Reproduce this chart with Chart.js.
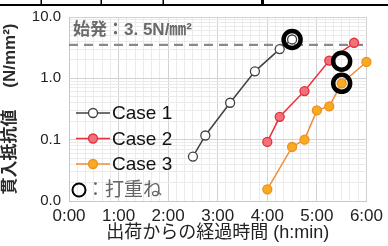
<!DOCTYPE html>
<html>
<head>
<meta charset="utf-8">
<script src="https://cdn.jsdelivr.net/npm/chart.js@4"></script>
<style>
  body { margin: 0; background: #fff; }
  canvas { display: block; }
</style>
</head>
<body>
<canvas id="chart" width="388" height="246"></canvas>
<script>
// elapsed time since shipping (h:mm) and penetration resistance (N/mm2)
const case1Times = ['2:30', '2:45', '3:15', '3:45', '4:15', '4:30'];
const case1Values = [0.053, 0.117, 0.40, 1.3, 3.0, 4.3];
const case2Times = ['4:00', '4:15', '4:45', '5:15', '5:45'];
const case2Values = [0.092, 0.236, 0.62, 1.95, 3.8];
const case3Times = ['4:00', '4:30', '4:45', '5:00', '5:15', '5:30', '6:00'];
const case3Values = [0.0155, 0.076, 0.1, 0.30, 0.35, 0.83, 1.85];
// 打重ね (layering) markers
const layerTimes = ['4:30', '5:30', '5:30'];
const layerValues = [4.3, 1.9, 0.83];
const initialSet = 3.5;
const yDecades = [0.01, 0.1, 1, 10];
const xHours = [0, 1, 2, 3, 4, 5, 6];

const FONT = '"Liberation Sans", "Noto Sans CJK JP", sans-serif';

function toHours(s) {
    const [h, m] = s.split(':').map(Number);
    return h + m / 60;
}
function pts(times, values) {
    return times.map((t, i) => ({ x: toHours(t), y: values[i] }));
}
function isDecade(v) {
    const l = Math.log10(v);
    return Math.abs(l - Math.round(l)) < 1e-9;
}

// cropped table edge above the figure + text inside the plot
const extras = {
    id: 'extras',
    beforeDraw(chart) {
        const ctx = chart.ctx;
        ctx.save();
        ctx.fillStyle = '#000';
        ctx.fillRect(0, 4, 388, 2);
        [41, 101, 163].forEach(x => ctx.fillRect(x - 0.5, 0, 1.5, 5));
        ctx.fillRect(261, 0, 3, 6);
        ctx.restore();
    },
    afterDatasetsDraw(chart) {
        const ctx = chart.ctx;
        const a = chart.chartArea;
        ctx.save();
        ctx.textBaseline = 'middle';
        // 始発 label
        ctx.fillStyle = '#6a6a6a';
        ctx.font = 'bold 17px ' + FONT;
        ctx.fillText('始発：3. 5N/㎜²', a.left + 4, a.top + 13);

        // legend
        const rows = [0, 1, 2];
        rows.forEach(i => {
            const ds = chart.data.datasets[i];
            const y = a.top + 96 + i * 25.5;
            const x0 = a.left + 7;
            ctx.strokeStyle = ds.borderColor;
            ctx.lineWidth = ds.borderWidth;
            ctx.beginPath();
            ctx.moveTo(x0, y);
            ctx.lineTo(x0 + 34, y);
            ctx.stroke();
            ctx.beginPath();
            ctx.arc(x0 + 17, y, ds.pointRadius, 0, Math.PI * 2);
            ctx.fillStyle = ds.pointBackgroundColor;
            ctx.fill();
            ctx.lineWidth = ds.pointBorderWidth;
            ctx.strokeStyle = ds.pointBorderColor;
            ctx.stroke();
            ctx.fillStyle = '#111';
            ctx.font = '19px ' + FONT;
            ctx.fillText(ds.label, x0 + 36, y + 1);
        });
        const y4 = a.top + 173;
        ctx.beginPath();
        ctx.arc(a.left + 10, y4, 6.5, 0, Math.PI * 2);
        ctx.strokeStyle = '#000';
        ctx.lineWidth = 2;
        ctx.stroke();
        ctx.fillStyle = '#666';
        ctx.font = '19px ' + FONT;
        ctx.fillText('：打重ね', a.left + 17, y4 + 1);
        ctx.restore();
    }
};

new Chart(document.getElementById('chart'), {
    type: 'scatter',
    data: {
        datasets: [
            {
                label: 'Case 1',
                data: pts(case1Times, case1Values),
                showLine: true,
                borderColor: '#404040',
                borderWidth: 1.5,
                pointRadius: 4.5,
                pointBackgroundColor: '#fff',
                pointBorderColor: '#404040',
                pointBorderWidth: 1.3,
                clip: false,
                order: 2
            },
            {
                label: 'Case 2',
                data: pts(case2Times, case2Values),
                showLine: true,
                borderColor: '#e8333d',
                borderWidth: 1.5,
                pointRadius: 4.5,
                pointBackgroundColor: '#f2707a',
                pointBorderColor: '#e0303a',
                pointBorderWidth: 1.3,
                clip: false,
                order: 2
            },
            {
                label: 'Case 3',
                data: pts(case3Times, case3Values),
                showLine: true,
                borderColor: '#f08c3a',
                borderWidth: 1.5,
                pointRadius: 4.5,
                pointBackgroundColor: '#f7ab1e',
                pointBorderColor: '#ee9022',
                pointBorderWidth: 1.3,
                clip: false,
                order: 2
            },
            {
                label: '始発',
                data: [{ x: 0, y: initialSet }, { x: 6, y: initialSet }],
                showLine: true,
                borderColor: '#8a8a8a',
                borderWidth: 2.2,
                borderDash: [9, 6],
                pointRadius: 0,
                order: 3
            },
            {
                label: '打重ね',
                data: pts(layerTimes, layerValues),
                showLine: false,
                pointRadius: 8.5,
                pointBorderWidth: 4.5,
                pointBorderColor: '#000',
                pointBackgroundColor: 'rgba(0,0,0,0)',
                clip: false,
                order: 1
            }
        ]
    },
    options: {
        responsive: false,
        animation: false,
        layout: { padding: { top: 16, right: 11, left: 0, bottom: 0 } },
        plugins: {
            legend: { display: false },
            tooltip: { enabled: false }
        },
        scales: {
            x: {
                type: 'linear',
                min: 0,
                max: 6,
                afterBuildTicks: s => {
                    s.ticks = [];
                    for (let i = 0; i <= 36; i++) s.ticks.push({ value: i / 6 });
                },
                afterFit: s => { s.height = 45; },
                ticks: {
                    autoSkip: false,
                    maxRotation: 0,
                    padding: 5,
                    color: '#222',
                    font: { family: FONT, size: 17 },
                    callback: v => {
                        const k = Math.round(v * 6);
                        return k % 6 === 0 ? xHours[k / 6] + ':00' : '';
                    }
                },
                grid: {
                    drawTicks: false,
                    color: c => (c.tick && Math.round(c.tick.value * 6) % 6 === 0) ? '#d2d2d2' : '#ebebeb'
                },
                border: { color: '#c8c8c8' },
                title: {
                    display: true,
                    text: '出荷からの経過時間 (h:min)',
                    color: '#222',
                    font: { family: FONT, size: 18 },
                    padding: { top: 0, bottom: 2 }
                }
            },
            y: {
                type: 'logarithmic',
                min: yDecades[0],
                max: yDecades[yDecades.length - 1],
                afterBuildTicks: s => {
                    const t = [];
                    yDecades.slice(0, -1).forEach(d => {
                        for (let k = 1; k <= 9; k++) t.push({ value: Number((d * k).toPrecision(2)) });
                    });
                    t.push({ value: yDecades[yDecades.length - 1] });
                    s.ticks = t;
                },
                afterFit: s => { s.width = 69; },
                ticks: {
                    autoSkip: false,
                    padding: 8,
                    color: '#222',
                    font: { family: FONT, size: 15 },
                    callback: v => isDecade(v) ? v.toFixed(1) : ''
                },
                grid: {
                    drawTicks: false,
                    color: c => (c.tick && isDecade(c.tick.value)) ? '#d2d2d2' : '#ebebeb'
                },
                border: { color: '#c8c8c8' },
                title: {
                    display: true,
                    text: '貫入抵抗値　 (N/mm²)',
                    color: '#2a2a2a',
                    font: { family: FONT, size: 17, weight: 'bold' },
                    padding: { top: 0, bottom: 4 }
                }
            }
        }
    },
    plugins: [extras]
});
</script>
</body>
</html>
